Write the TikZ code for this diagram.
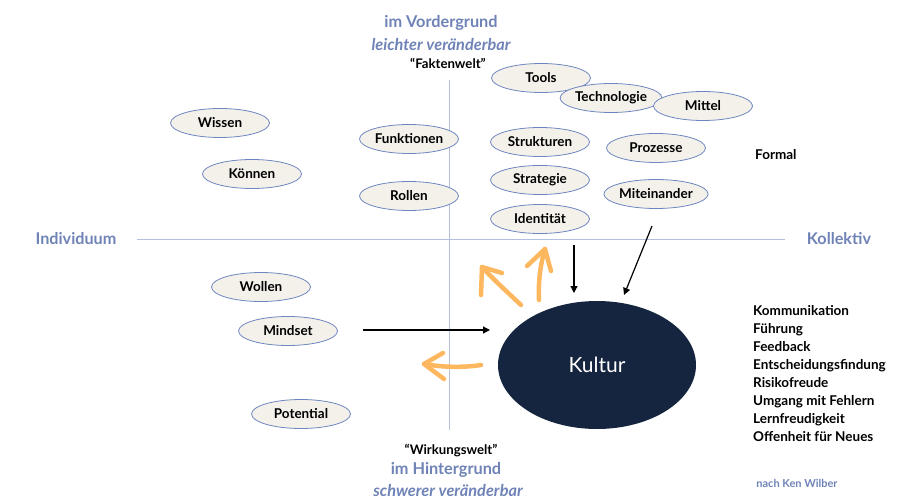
\documentclass[tikz,border=0pt]{standalone}
\usepackage{fontspec}
\setmainfont{Lato}
\usetikzlibrary{shapes.geometric,arrows.meta}
\definecolor{axisblue}{HTML}{B3C0DD}
\definecolor{textblue}{HTML}{6F83B7}
\definecolor{ellborder}{HTML}{6E86C0}
\definecolor{ellfill}{HTML}{F3F1EA}
\definecolor{navy}{HTML}{16253F}
\definecolor{orangearr}{HTML}{FDB75F}
\tikzset{
  item/.style={ellipse, draw=ellborder, fill=ellfill, line width=0.8pt, minimum width=99pt, minimum height=29pt, inner sep=0pt, font=\fontsize{13.5}{15}\selectfont\bfseries},
  bluehead/.style={text=textblue, font=\fontsize{16.3}{18}\selectfont\bfseries},
  blueital/.style={text=textblue, font=\fontsize{16.3}{18}\selectfont\bfseries\itshape},
  quote/.style={font=\fontsize{13.2}{15}\selectfont\bfseries},
  listtxt/.style={anchor=base west, inner sep=0pt, font=\fontsize{13.5}{15}\selectfont\bfseries},
  axis/.style={draw=axisblue, line width=1pt},
  blackarr/.style={draw=black, line width=1.2pt, -{Triangle[length=7pt,width=7pt]}},
  orangestroke/.style={draw=orangearr, line width=4.5pt, line cap=round, line join=round}
}
\begin{document}
\begin{tikzpicture}[x=1pt,y=-1pt]
\useasboundingbox (0,0) rectangle (900,500);
% axes
\coordinate (vtop) at (449,80);
\coordinate (vbot) at (449,430);
\coordinate (hleft) at (137,239);
\coordinate (hright) at (785,239);
\draw[axis] (vtop) -- (vbot);
\draw[axis] (hleft) -- (hright);
% axis labels
\node[text=textblue, font=\fontsize{16.2}{18}\selectfont\bfseries] (indiv) at (76,239) {Individuum};
\node[text=textblue, font=\fontsize{16.2}{18}\selectfont\bfseries] (koll) at (839,239) {Kollektiv};
\node[bluehead] (vorder) at (441,23) {im Vordergrund};
\node[blueital] (leicht) at (441,45) {leichter veränderbar};
\node[quote] (fakten) at (448,63) {“Faktenwelt”};
\node[quote] (wirk) at (451,451) {“Wirkungswelt”};
\node[bluehead] (hinter) at (446,470) {im Hintergrund};
\node[blueital] (schwer) at (448,491) {schwerer veränderbar};
\node[text=textblue, font=\fontsize{11}{13}\selectfont\bfseries] (ken) at (797,483) {nach Ken Wilber};
% ellipses
\node[item] (tools) at (541,78) {Tools};
\node[item] (techno) at (611,98) {Technologie};
\node[item] (mittel) at (703,106) {Mittel};
\node[item] (strukt) at (540,142) {Strukturen};
\node[item] (strat) at (540,180) {Strategie};
\node[item] (ident) at (540,219) {Identität};
\node[item] (proz) at (656,148) {Prozesse};
\node[item] (mitein) at (656,194) {Miteinander};
\node[item] (wissen) at (220,123) {Wissen};
\node[item] (koennen) at (252,174) {Können};
\node[item] (funkt) at (409,139) {Funktionen};
\node[item] (rollen) at (409,196) {Rollen};
\node[item] (wollen) at (261,287) {Wollen};
\node[item] (mindset) at (288,331) {Mindset};
\node[item] (potential) at (301,414) {Potential};
% Kultur
\node[ellipse, fill=navy, minimum width=198pt, minimum height=128pt, inner sep=0pt, text=white, font=\fontsize{21}{23}\selectfont] (kultur) at (597,365) {Kultur};
% Formal
\node[font=\fontsize{13.5}{15}\selectfont\bfseries, anchor=west, inner sep=0pt] (formal) at (755,155) {Formal};
% list
\node[listtxt] (l1) at (753,315) {Kommunikation};
\node[listtxt] (l2) at (753,333) {Führung};
\node[listtxt] (l3) at (753,351) {Feedback};
\node[listtxt] (l4) at (753,369) {Entscheidungsfindung};
\node[listtxt] (l5) at (753,387) {Risikofreude};
\node[listtxt] (l6) at (753,405) {Umgang mit Fehlern};
\node[listtxt] (l7) at (753,423) {Lernfreudigkeit};
\node[listtxt] (l8) at (753,441) {Offenheit für Neues};
% black arrows
\draw[blackarr] ([xshift=25pt]mindset.east |- 0,330) coordinate (ma) -- (490,330) coordinate (mb);
\coordinate (va) at (574,245);
\coordinate (vb) at (574,293);
\draw[blackarr] (va) -- (vb);
\coordinate (da) at (652,226);
\coordinate (db) at (624,295);
\draw[blackarr] (da) -- (db);
% orange hand-drawn arrows
\coordinate (o1s) at (521,305);
\coordinate (o1t) at (482,267);
\draw[orangestroke] (o1s) .. controls (505,290) and (492,278) .. (o1t);
\draw[orangestroke] (502,273) -- (o1t) -- (481,295);
\coordinate (o2s) at (539,300);
\coordinate (o2t) at (545,249);
\draw[orangestroke] (o2s) .. controls (538,280) and (541,262) .. (o2t);
\draw[orangestroke] (527,266) -- (o2t) -- (551,271);
\coordinate (o3s) at (481,365);
\coordinate (o3t) at (424,364);
\draw[orangestroke] (o3s) .. controls (462,368) and (440,367) .. (o3t);
\draw[orangestroke] (443,353) -- (o3t) -- (444,379);
\end{tikzpicture}
\end{document}
